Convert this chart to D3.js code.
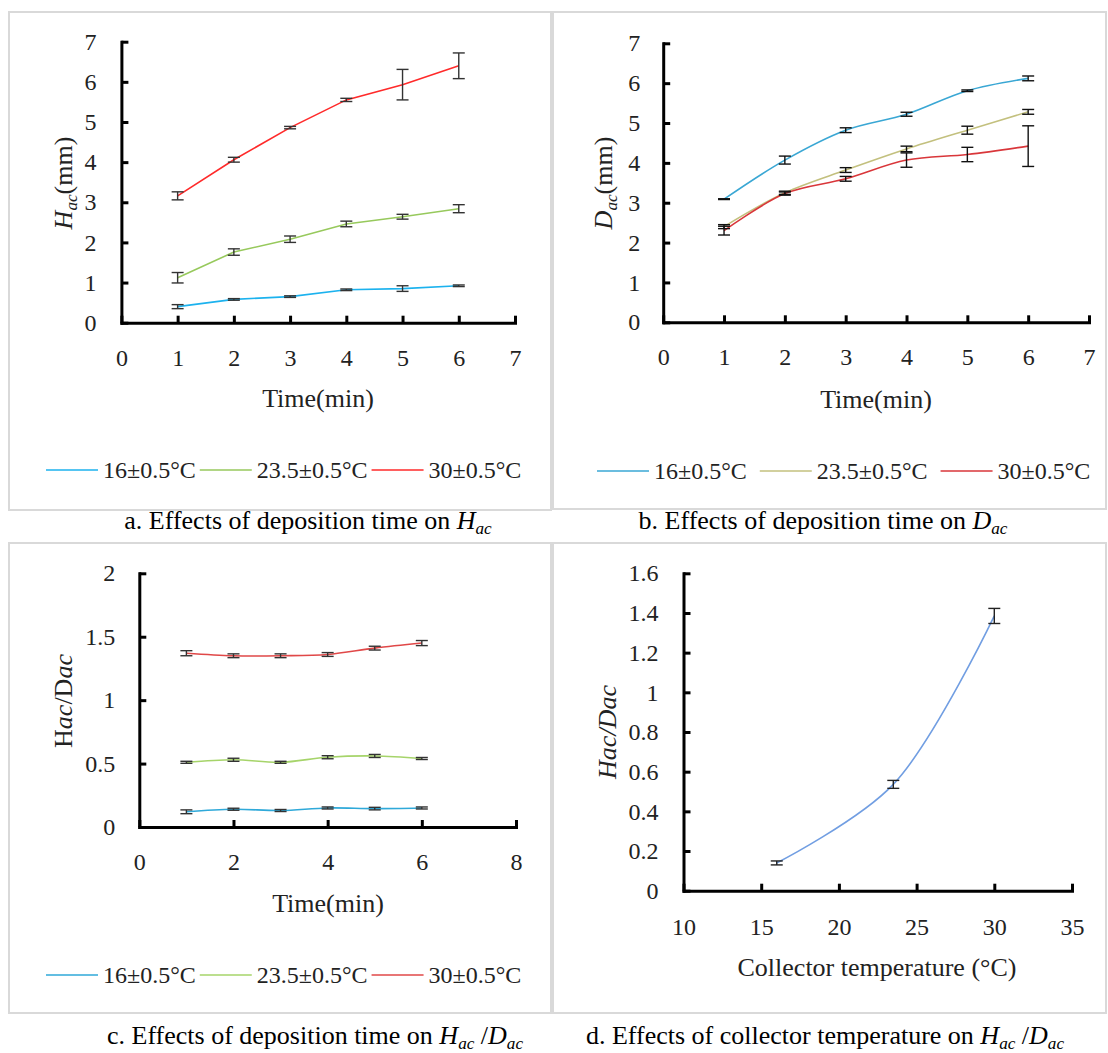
<!DOCTYPE html>
<html><head><meta charset="utf-8">
<script src="https://cdn.jsdelivr.net/npm/d3@7"></script>
<style>
body{margin:0;background:#fff;}
svg{display:block;font-family:"Liberation Serif","Times New Roman",serif;}
</style></head><body>
<svg id="chart" width="1108" height="1053"></svg>
<script>
// ---------- DATA ----------
const timeMin = [1, 2, 3, 4, 5, 6];
const legendLabels = ["16±0.5°C", "23.5±0.5°C", "30±0.5°C"];

const hacLow = [0.40, 0.58, 0.65, 0.82, 0.85, 0.92];
const hacLowErr = [0.05, 0.02, 0.02, 0.02, 0.07, 0.02];
const hacMid = [1.12, 1.76, 2.08, 2.46, 2.64, 2.84];
const hacMidErr = [0.13, 0.08, 0.08, 0.07, 0.06, 0.10];
const hacHigh = [3.16, 4.06, 4.86, 5.55, 5.93, 6.40];
const hacHighErr = [0.10, 0.06, 0.03, 0.04, 0.38, 0.32];

const dacLow = [3.09, 4.07, 4.82, 5.22, 5.81, 6.12];
const dacLowErr = [0.01, 0.10, 0.06, 0.05, 0.02, 0.06];
const dacMid = [2.40, 3.25, 3.82, 4.35, 4.82, 5.28];
const dacMidErr = [0.05, 0.04, 0.06, 0.07, 0.10, 0.06];
const dacHigh = [2.30, 3.23, 3.60, 4.07, 4.21, 4.42];
const dacHighErr = [0.11, 0.04, 0.06, 0.18, 0.18, 0.51];

const ratioLow = [0.12, 0.14, 0.13, 0.15, 0.145, 0.15];
const ratioLowErr = [0.015, 0.008, 0.008, 0.008, 0.01, 0.008];
const ratioMid = [0.51, 0.53, 0.51, 0.55, 0.56, 0.54];
const ratioMidErr = [0.008, 0.012, 0.008, 0.012, 0.012, 0.008];
const ratioHigh = [1.37, 1.35, 1.35, 1.36, 1.41, 1.45];
const ratioHighErr = [0.02, 0.015, 0.015, 0.015, 0.015, 0.02];

const collectorTemp = [16, 23.5, 30];
const ratioByTemp = [0.14, 0.536, 1.385];
const ratioByTempErr = [0.01, 0.02, 0.038];

const timeTicks7 = [0, 1, 2, 3, 4, 5, 6, 7];
const mmTicks = [0, 1, 2, 3, 4, 5, 6, 7];
const timeTicks8 = [0, 2, 4, 6, 8];
const ratioTicksC = [0, 0.5, 1, 1.5, 2];
const tempTicks = [10, 15, 20, 25, 30, 35];
const ratioTicksD = [0, 0.2, 0.4, 0.6, 0.8, 1, 1.2, 1.4, 1.6];

// ---------- DRAW ----------
const svg = d3.select("#chart");
const FONT = '"Liberation Serif","Times New Roman",serif';

// panel frames
[[9, 12, 551, 510], [553, 12, 1106, 509], [9, 543, 551, 1013], [553, 543, 1106, 1013]].forEach(f => {
  svg.append("rect").attr("x", f[0]).attr("y", f[1]).attr("width", f[2] - f[0]).attr("height", f[3] - f[1])
    .attr("fill", "none").attr("stroke", "#d9d9d9").attr("stroke-width", 2);
});

function richText(sel, parts, size) {
  let sub = false;
  parts.forEach(p => {
    const ts = sel.append("tspan").text(p.t);
    if (p.i) ts.attr("font-style", "italic");
    if (p.s && !sub) { ts.attr("dy", size * 0.2); sub = true; }
    else if (!p.s && sub) { ts.attr("dy", -size * 0.2); sub = false; }
    if (p.s) ts.attr("font-size", size * 0.66);
  });
}

function panel(cfg) {
  const x = d3.scaleLinear().domain(cfg.xDomain).range(cfg.xRange);
  const y = d3.scaleLinear().domain(cfg.yDomain).range(cfg.yRange);
  const g = svg.append("g");

  const gx = g.append("g").attr("transform", `translate(0,${cfg.yRange[0]})`)
    .call(d3.axisBottom(x).tickValues(cfg.xTicks).tickFormat(d => d).tickSize(-7).tickSizeOuter(0).tickPadding(cfg.xPad));
  const gy = g.append("g").attr("transform", `translate(${cfg.xRange[0]},0)`)
    .call(d3.axisLeft(y).tickValues(cfg.yTicks).tickFormat(d => d).tickSize(-7).tickSizeOuter(0).tickPadding(cfg.yPad));
  [gx, gy].forEach(a => {
    a.attr("font-family", FONT).attr("font-size", 24);
    a.select(".domain").attr("stroke", "#000").attr("stroke-width", 3).attr("stroke-linecap", "square");
    a.selectAll(".tick line").attr("stroke", "#000").attr("stroke-width", 3);
    a.selectAll(".tick text").attr("fill", "#222");
  });

  // series lines
  cfg.series.forEach(s => {
    const pts = s.xs.map((xv, i) => [xv, s.ys[i]]);
    g.append("path").datum(pts)
      .attr("d", d3.line().x(d => x(d[0])).y(d => y(d[1])).curve(cfg.curve))
      .attr("fill", "none").attr("stroke", s.color).attr("stroke-width", 1.6);
  });
  // error bars
  cfg.series.forEach(s => {
    s.xs.forEach((xv, i) => {
      const cx = x(xv), y1 = y(s.ys[i] + s.err[i]), y2 = y(s.ys[i] - s.err[i]);
      const eb = g.append("g").attr("stroke", cfg.errColor).attr("stroke-width", 1.4);
      eb.append("line").attr("x1", cx).attr("x2", cx).attr("y1", y1).attr("y2", y2);
      eb.append("line").attr("x1", cx - 6).attr("x2", cx + 6).attr("y1", y1).attr("y2", y1);
      eb.append("line").attr("x1", cx - 6).attr("x2", cx + 6).attr("y1", y2).attr("y2", y2);
    });
  });

  // x title
  g.append("text").attr("x", cfg.xTitle[1]).attr("y", cfg.xTitle[2]).attr("dy", "0.35em")
    .attr("text-anchor", "middle").attr("font-size", 26).attr("fill", "#222").text(cfg.xTitle[0]);
  // y title
  const yt = g.append("text").attr("transform", `translate(${cfg.yTitle[1]},${cfg.yTitle[2]}) rotate(-90)`)
    .attr("dy", "0.35em").attr("text-anchor", "middle").attr("font-size", 26).attr("fill", "#222");
  richText(yt, cfg.yTitle[0], 26);

  // legend
  if (cfg.legend) {
    let lx = cfg.legend.x;
    const ly = cfg.legend.y;
    cfg.series.forEach((s, i) => {
      g.append("line").attr("x1", lx).attr("x2", lx + 52).attr("y1", ly).attr("y2", ly)
        .attr("stroke", s.color).attr("stroke-width", 1.6);
      const t = g.append("text").attr("x", lx + 57).attr("y", ly + 8).attr("font-size", 24)
        .attr("fill", "#222").text(legendLabels[i]);
      lx = lx + 57 + t.node().getComputedTextLength() + cfg.legend.gap;
    });
  }
  // caption
  const cap = svg.append("text").attr("x", cfg.caption[1]).attr("y", cfg.caption[2])
    .attr("text-anchor", "middle").attr("font-size", 26).attr("fill", "#000");
  richText(cap, cfg.caption[0], 26);
}

panel({
  xDomain: [0, 7], yDomain: [0, 7], xRange: [121.4, 515], yRange: [322.7, 41.7],
  xTicks: timeTicks7, yTicks: mmTicks, xPad: 26, yPad: 25, curve: d3.curveLinear, errColor: "#333",
  series: [
    { xs: timeMin, ys: hacLow, err: hacLowErr, color: "#1cb2ee" },
    { xs: timeMin, ys: hacMid, err: hacMidErr, color: "#97c95c" },
    { xs: timeMin, ys: hacHigh, err: hacHighErr, color: "#ff2a2a" }
  ],
  xTitle: ["Time(min)", 318, 398],
  yTitle: [[{ t: "H", i: true }, { t: "ac", i: true, s: true }, { t: "(mm)" }], 62.5, 183],
  legend: { x: 46, y: 470, gap: 4 },
  caption: [[{ t: "a. Effects of deposition time on " }, { t: "H", i: true }, { t: "ac", i: true, s: true }], 308, 529]
});

panel({
  xDomain: [0, 7], yDomain: [0, 7], xRange: [663.2, 1089], yRange: [322.3, 43.3],
  xTicks: timeTicks7, yTicks: mmTicks, xPad: 26, yPad: 23, curve: d3.curveCatmullRom, errColor: "#111",
  series: [
    { xs: timeMin, ys: dacLow, err: dacLowErr, color: "#3aa7d4" },
    { xs: timeMin, ys: dacMid, err: dacMidErr, color: "#c3c07e" },
    { xs: timeMin, ys: dacHigh, err: dacHighErr, color: "#d9363a" }
  ],
  xTitle: ["Time(min)", 876, 399],
  yTitle: [[{ t: "D", i: true }, { t: "ac", i: true, s: true }, { t: "(mm)" }], 603, 183],
  legend: { x: 597, y: 471, gap: 13 },
  caption: [[{ t: "b.  Effects of deposition time on " }, { t: "D", i: true }, { t: "ac", i: true, s: true }], 823, 529]
});

panel({
  xDomain: [0, 8], yDomain: [0, 2], xRange: [139.3, 516], yRange: [827, 573.3],
  xTicks: timeTicks8, yTicks: ratioTicksC, xPad: 26, yPad: 24, curve: d3.curveCatmullRom, errColor: "#333",
  series: [
    { xs: timeMin, ys: ratioLow, err: ratioLowErr, color: "#2fa9d9" },
    { xs: timeMin, ys: ratioMid, err: ratioMidErr, color: "#a6d46a" },
    { xs: timeMin, ys: ratioHigh, err: ratioHighErr, color: "#e04848" }
  ],
  xTitle: ["Time(min)", 328, 903],
  yTitle: [[{ t: "H" }, { t: "ac", i: true }, { t: "/D" }, { t: "ac", i: true }], 62.5, 701],
  legend: { x: 46, y: 975, gap: 4 },
  caption: [[{ t: "c. Effects of deposition time on " }, { t: "H", i: true }, { t: "ac", i: true, s: true }, { t: " /" }, { t: "D", i: true }, { t: "ac", i: true, s: true }], 315, 1044]
});

panel({
  xDomain: [10, 35], yDomain: [0, 1.6], xRange: [683.5, 1072], yRange: [890.7, 573.3],
  xTicks: tempTicks, yTicks: ratioTicksD, xPad: 27, yPad: 25, curve: d3.curveCatmullRom, errColor: "#222",
  series: [
    { xs: collectorTemp, ys: ratioByTemp, err: ratioByTempErr, color: "#719ee2" }
  ],
  xTitle: ["Collector  temperature (°C)", 877, 967],
  yTitle: [[{ t: "Hac/Dac", i: true }], 607, 732],
  legend: null,
  caption: [[{ t: "d.  Effects of collector temperature on " }, { t: "H", i: true }, { t: "ac", i: true, s: true }, { t: " /" }, { t: "D", i: true }, { t: "ac", i: true, s: true }], 825, 1044]
});
</script>
</body></html>
